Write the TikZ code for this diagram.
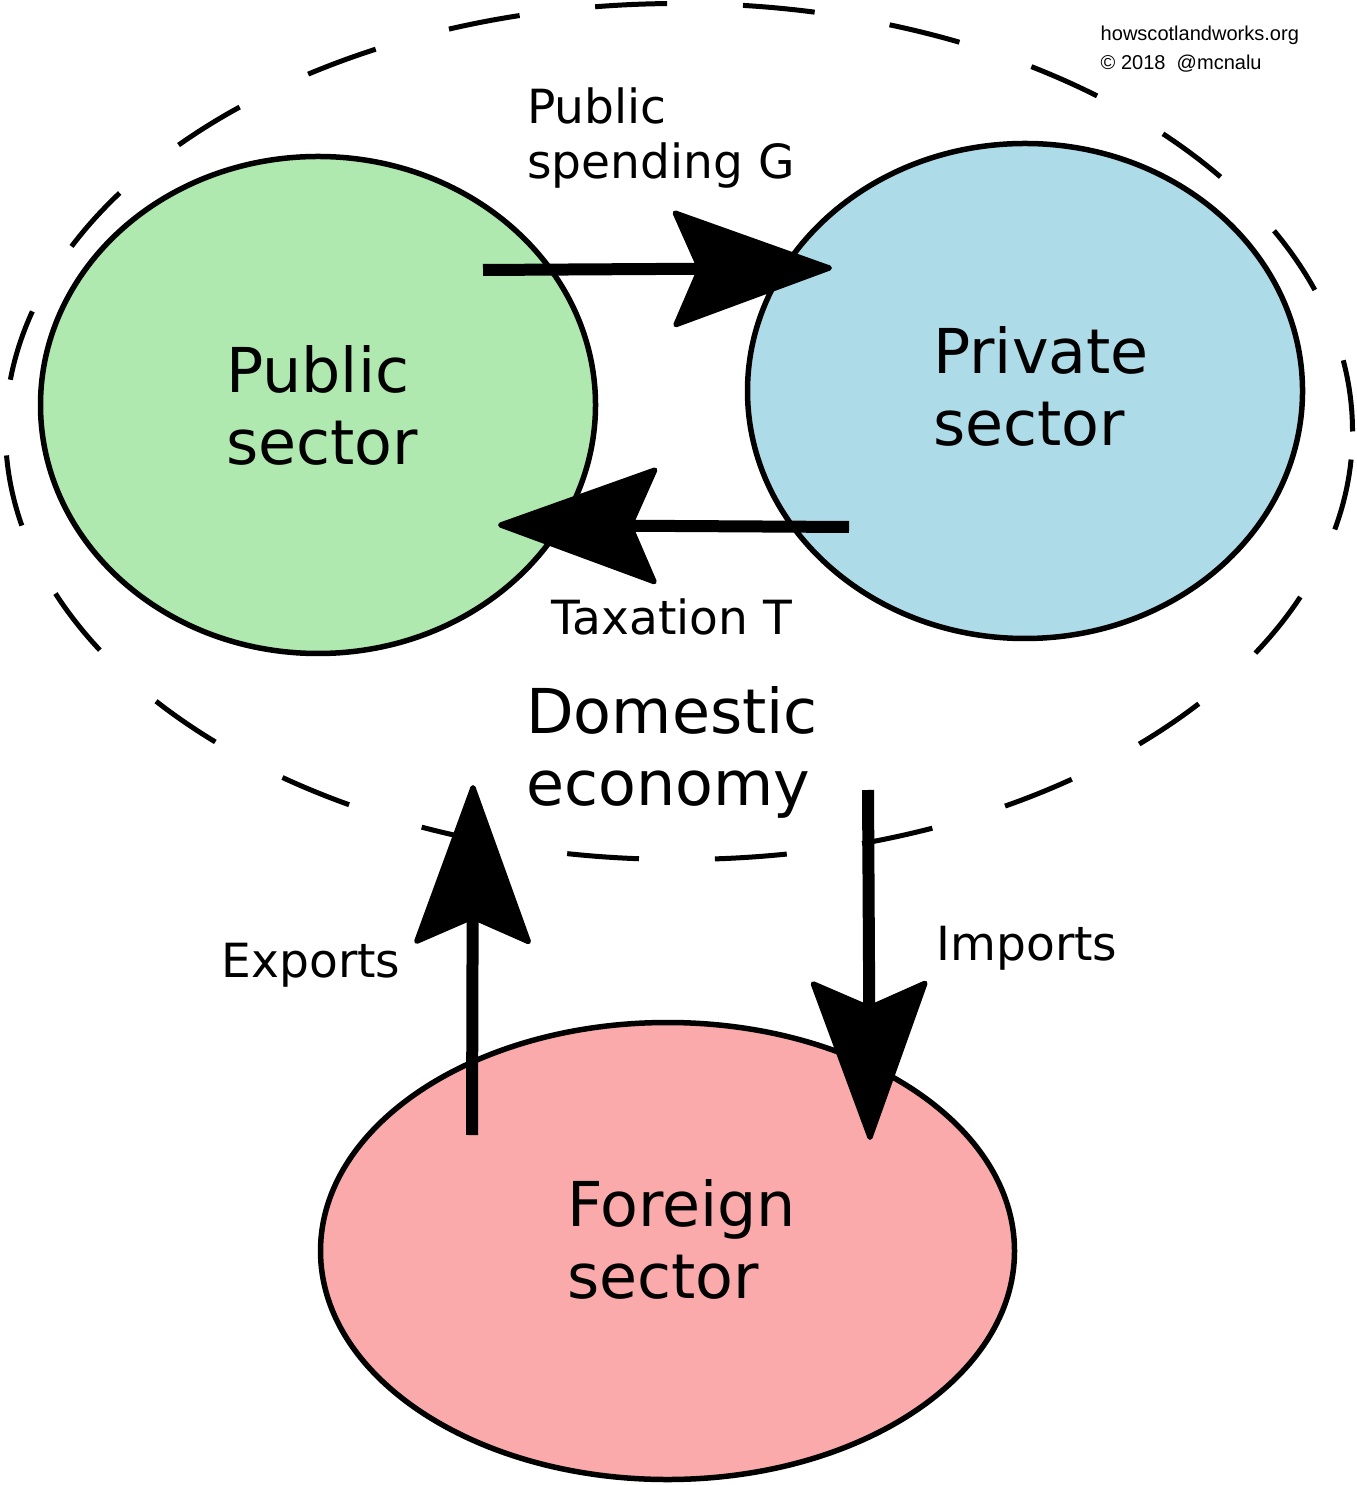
\documentclass[tikz,border=0pt]{standalone}
\usepackage{fontspec}
\setmainfont{DejaVu Sans}
\newfontfamily\notefont{Liberation Sans}
\usetikzlibrary{shapes,arrows.meta}
\definecolor{pubgreen}{RGB}{175,233,175}
\definecolor{privblue}{RGB}{173,220,232}
\definecolor{forpink}{RGB}{250,170,170}

\begin{document}
\begin{tikzpicture}[sector/.style={draw, ellipse, line width=0.055cm, inner sep=0pt},
  big/.style={align=left, font=\fontsize{17.6}{20.5}\selectfont},
  flow/.style={line width=0.12cm, -{Stealth[length=1.66cm, width=1.2cm, inset=0.26cm, line width=1.5pt, round]}},
  lab/.style={align=left, font=\fontsize{13.4}{15.6}\selectfont}]
\useasboundingbox (0,0) rectangle (13.56,-14.85);
\node[draw, ellipse, dashed, dash pattern=on 0.72cm off 0.76cm, line width=0.05cm, minimum width=13.47cm, minimum height=8.56cm, inner sep=0pt] (domestic) at (6.79,-4.315) {};
\node[sector, fill=pubgreen, minimum width=5.55cm, minimum height=4.97cm, label={[big, xshift=0.04cm]center:Public\\sector}] (public) at (3.18,-4.05) {};
\node[sector, fill=privblue, minimum width=5.55cm, minimum height=4.95cm, label={[big, xshift=0.16cm, yshift=0.05cm]center:Private\\sector}] (private) at (10.25,-3.91) {};
\node[sector, fill=forpink, minimum width=6.94cm, minimum height=4.57cm, label={[big, xshift=0.14cm, yshift=0.12cm]center:Foreign\\sector}] (foreign) at (6.675,-12.51) {};
\node[big] (domlabel) at (6.72,-7.52) {Domestic\\economy};
% flows between sectors
\coordinate (gfrom) at (4.83,-2.70);
\coordinate (gto) at (8.32,-2.68);
\coordinate (tfrom) at (8.49,-5.27);
\coordinate (tto) at (4.98,-5.25);
\coordinate (xfrom) at (4.72,-11.35);
\coordinate (xto) at (4.73,-7.85);
\coordinate (mfrom) at (8.68,-7.90);
\coordinate (mto) at (8.70,-11.40);
\draw[flow] (gfrom) -- (gto);
\draw[flow] (tfrom) -- (tto);
\draw[flow] (xfrom) -- (xto);
\draw[flow] (mfrom) -- (mto);
\node[lab] (spending) at (6.61,-1.38) {Public\\spending G};
\node[lab] (taxation) at (6.72,-6.17) {Taxation T};
\node[lab] (exports) at (3.11,-9.65) {Exports};
\node[lab] (imports) at (10.27,-9.48) {Imports};
\node[anchor=north west, inner sep=0pt, align=left, font=\notefont\fontsize{5.7}{8.2}\selectfont] (credit) at (11.00,-0.255) {howscotlandworks.org\\© 2018\ \ @mcnalu};
\end{tikzpicture}
\end{document}
